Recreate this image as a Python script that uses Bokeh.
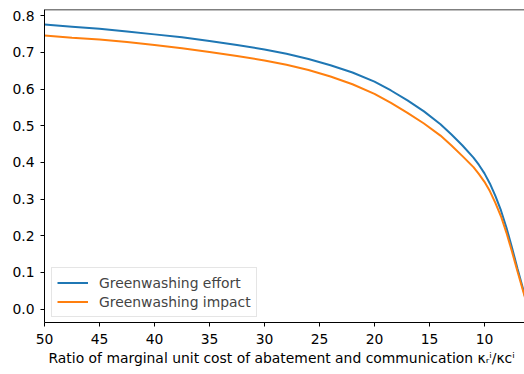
from bokeh.plotting import figure
from bokeh.models import Range1d, Legend, LegendItem, Span, Title, FixedTicker
from bokeh.embed import file_html
from bokeh.resources import INLINE

# Data
ratio = [50, 47.5, 45, 42.5, 40, 37.5, 35, 32.5, 30, 28, 26, 24, 22, 20, 18.5, 17,
         15.5, 14, 13, 12, 11, 10.5, 10, 9.5, 9, 8.5, 8, 7.5, 7, 6.5, 6.2]
effort = [0.776, 0.770, 0.764, 0.757, 0.749, 0.741, 0.731, 0.720, 0.708, 0.696, 0.682,
          0.665, 0.645, 0.620, 0.596, 0.569, 0.539, 0.504, 0.476, 0.446, 0.413, 0.393,
          0.370, 0.342, 0.308, 0.269, 0.222, 0.168, 0.111, 0.056, 0.022]
impact = [0.746, 0.740, 0.735, 0.728, 0.720, 0.711, 0.701, 0.690, 0.678, 0.666, 0.652,
          0.634, 0.613, 0.587, 0.562, 0.535, 0.506, 0.473, 0.446, 0.417, 0.387, 0.368,
          0.347, 0.321, 0.289, 0.253, 0.208, 0.157, 0.103, 0.051, 0.019]

x_ticks = [50, 45, 40, 35, 30, 25, 20, 15, 10]
y_ticks = [0.0, 0.1, 0.2, 0.3, 0.4, 0.5, 0.6, 0.7, 0.8]

x_lo, x_hi = 50, 6.36
y_lo, y_hi = -0.0365, 0.8168

FONT = "DejaVu Sans"
FS = "13.9px"

p = figure(width=524, height=374, output_backend="svg", toolbar_location=None,
           x_range=Range1d(x_lo, x_hi), y_range=Range1d(y_lo, y_hi),
           min_border_left=44, min_border_right=0, min_border_top=9, min_border_bottom=52)

p.outline_line_color = None
p.grid.visible = False
p.background_fill_color = "white"
p.border_fill_color = "white"

for ax in (p.xaxis[0], p.yaxis[0]):
    ax.axis_line_color = "black"
    ax.axis_line_width = 1
    ax.major_tick_line_color = "black"
    ax.major_tick_out = 4
    ax.major_tick_in = 0
    ax.minor_tick_line_color = None
    ax.major_label_text_font = FONT
    ax.major_label_text_font_size = FS
    ax.major_label_text_color = "black"

p.xaxis[0].ticker = FixedTicker(ticks=x_ticks)
p.yaxis[0].ticker = FixedTicker(ticks=y_ticks)
p.xaxis[0].major_label_standoff = 7
p.yaxis[0].major_label_standoff = 6
p.yaxis[0].major_label_overrides = {v: f"{v:.1f}" for v in y_ticks}

top = Span(location=y_hi, dimension="width", line_color="black", line_width=1.5)
p.add_layout(top)

r1 = p.line(ratio, effort, line_color="#1f77b4", line_width=2)
r2 = p.line(ratio, impact, line_color="#ff7f0e", line_width=2)

legend = Legend(items=[LegendItem(label="Greenwashing effort", renderers=[r1]),
                       LegendItem(label="Greenwashing impact", renderers=[r2])],
                location=(7, 5), margin=0, padding=5, spacing=0,
                glyph_width=31, glyph_height=19, label_height=19, label_standoff=11,
                label_text_font=FONT, label_text_font_size=FS,
                border_line_color="#cccccc", border_line_width=1,
                background_fill_color="white", background_fill_alpha=0.8)
p.add_layout(legend)

xlabel = Title(text="Ratio of marginal unit cost of abatement and communication κᵣⁱ/κcⁱ",
               align="left", offset=4, text_font=FONT, text_font_size=FS,
               text_font_style="normal", text_color="black", standoff=3)
p.add_layout(xlabel, "below")

open("out.html", "w").write(file_html(p, INLINE))
